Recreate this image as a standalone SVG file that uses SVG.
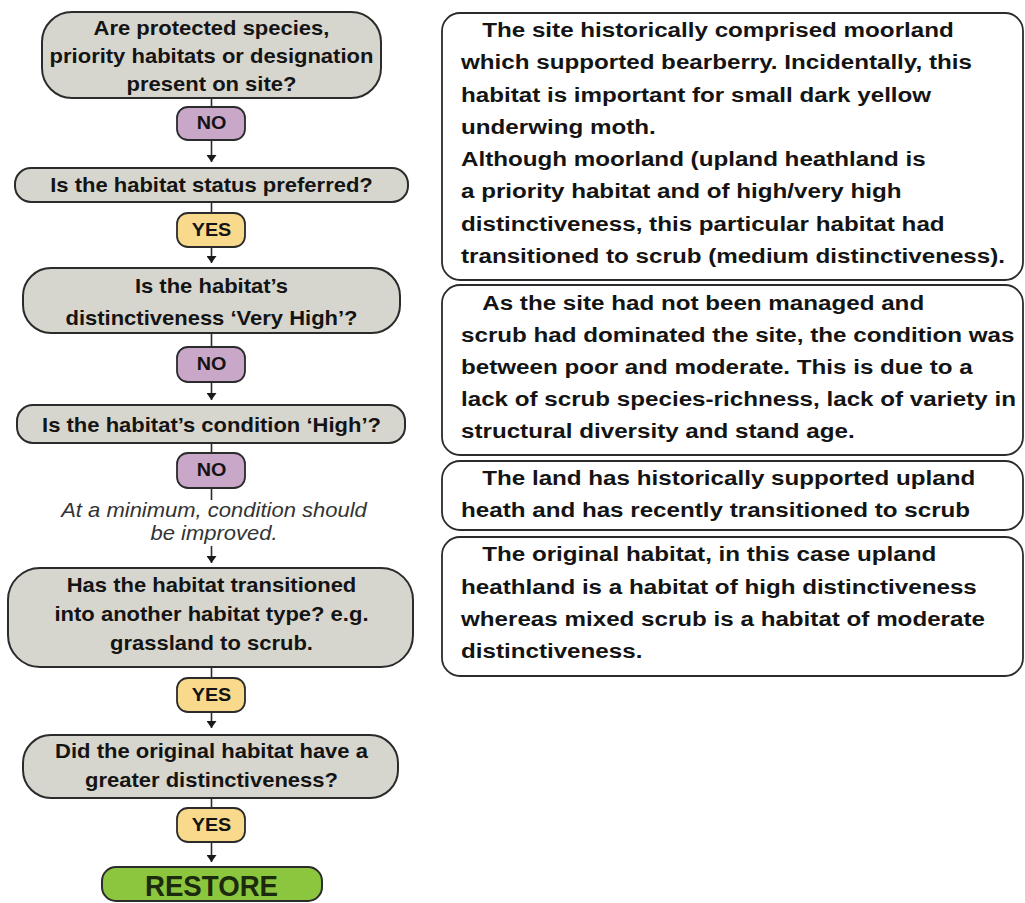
<svg xmlns="http://www.w3.org/2000/svg" width="1025" height="903" viewBox="0 0 1025 903">
  <defs>
    <marker id="arrow" viewBox="0 0 7 10" refX="7" refY="5" markerWidth="7" markerHeight="10" markerUnits="userSpaceOnUse" orient="auto">
      <path d="M0,0 L7,5 L0,10 Z" fill="#1a1a1a"/>
    </marker>
    <style>
      .q { fill: #d7d6ce; stroke: #2b2b2b; stroke-width: 2; }
      .no { fill: #c9a7c8; stroke: #2b2b2b; stroke-width: 1.8; }
      .yes { fill: #f9d98b; stroke: #2b2b2b; stroke-width: 1.8; }
      .go { fill: #8cc63e; stroke: #2b2b2b; stroke-width: 2; }
      .note { fill: #ffffff; stroke: #2b2b2b; stroke-width: 1.8; }
      .link { stroke: #2b2b2b; stroke-width: 1.6; fill: none; }
      text { font-family: "Liberation Sans", Arial, sans-serif; fill: #141414; }
      .b { font-weight: bold; font-size: 20px; text-anchor: middle; }
      .tag { font-weight: bold; font-size: 18px; text-anchor: middle; }
      .it { font-style: italic; font-size: 20px; text-anchor: middle; fill: #333333; }
      .r { font-weight: bold; font-size: 20.5px; }
      .big { font-weight: bold; font-size: 30px; text-anchor: middle; fill: #1c2a0e; }
    </style>
  </defs>

  <rect width="1025" height="903" fill="#ffffff"/>

  <!-- connectors on the centre line -->
  <g id="connectors">
    <line class="link" x1="211.5" y1="98" x2="211.5" y2="107"/>
    <line class="link" x1="211.5" y1="140" x2="211.5" y2="162" marker-end="url(#arrow)"/>
    <line class="link" x1="211.5" y1="202" x2="211.5" y2="213"/>
    <line class="link" x1="211.5" y1="247" x2="211.5" y2="263" marker-end="url(#arrow)"/>
    <line class="link" x1="211.5" y1="333" x2="211.5" y2="347"/>
    <line class="link" x1="211.5" y1="382" x2="211.5" y2="400" marker-end="url(#arrow)"/>
    <line class="link" x1="211.5" y1="443" x2="211.5" y2="453"/>
    <line class="link" x1="211.5" y1="488" x2="211.5" y2="500"/>
    <line class="link" x1="211.5" y1="546" x2="211.5" y2="563" marker-end="url(#arrow)"/>
    <line class="link" x1="211.5" y1="667" x2="211.5" y2="678"/>
    <line class="link" x1="211.5" y1="712" x2="211.5" y2="728" marker-end="url(#arrow)"/>
    <line class="link" x1="211.5" y1="798" x2="211.5" y2="808"/>
    <line class="link" x1="211.5" y1="842" x2="211.5" y2="862" marker-end="url(#arrow)"/>
  </g>

  <!-- decision column -->
  <g id="q-protected">
    <rect class="q" x="42" y="12" width="339" height="86" rx="30"/>
    <g transform="translate(211.5 0) scale(1.1 1)">
      <text class="b" x="0" y="35">Are protected species,</text>
      <text class="b" x="0" y="63">priority habitats or designation</text>
      <text class="b" x="0" y="91">present on site?</text>
    </g>
  </g>
  <g id="a-no-1">
    <rect class="no" x="177" y="107" width="68" height="33" rx="11"/>
    <text class="tag" transform="translate(211.5 0) scale(1.1 1)" x="0" y="129">NO</text>
  </g>

  <g id="q-status">
    <rect class="q" x="15" y="168" width="393" height="34" rx="16"/>
    <text class="b" transform="translate(211.5 0) scale(1.1 1)" x="0" y="192">Is the habitat status preferred?</text>
  </g>
  <g id="a-yes-1">
    <rect class="yes" x="177" y="213" width="68" height="34" rx="11"/>
    <text class="tag" transform="translate(211.5 0) scale(1.1 1)" x="0" y="236">YES</text>
  </g>

  <g id="q-distinct">
    <rect class="q" x="23" y="268" width="377" height="65" rx="28"/>
    <g transform="translate(211.5 0) scale(1.1 1)">
      <text class="b" x="0" y="293">Is the habitat’s</text>
      <text class="b" x="0" y="325">distinctiveness ‘Very High’?</text>
    </g>
  </g>
  <g id="a-no-2">
    <rect class="no" x="177" y="347" width="68" height="35" rx="11"/>
    <text class="tag" transform="translate(211.5 0) scale(1.1 1)" x="0" y="370">NO</text>
  </g>

  <g id="q-condition">
    <rect class="q" x="17" y="405" width="388" height="38" rx="16"/>
    <text class="b" transform="translate(211.5 0) scale(1.1 1)" x="0" y="432">Is the habitat’s condition ‘High’?</text>
  </g>
  <g id="a-no-3">
    <rect class="no" x="177" y="453" width="68" height="35" rx="11"/>
    <text class="tag" transform="translate(211.5 0) scale(1.1 1)" x="0" y="476">NO</text>
  </g>

  <g id="note-minimum" transform="translate(214 0) scale(1.1 1)">
    <text class="it" x="0" y="517">At a minimum, condition should</text>
    <text class="it" x="0" y="540">be improved.</text>
  </g>

  <g id="q-transition">
    <rect class="q" x="8" y="568" width="405" height="99" rx="32"/>
    <g transform="translate(211.5 0) scale(1.1 1)">
      <text class="b" x="0" y="592">Has the habitat transitioned</text>
      <text class="b" x="0" y="621">into another habitat type? e.g.</text>
      <text class="b" x="0" y="650">grassland to scrub.</text>
    </g>
  </g>
  <g id="a-yes-2">
    <rect class="yes" x="177" y="678" width="68" height="34" rx="11"/>
    <text class="tag" transform="translate(211.5 0) scale(1.1 1)" x="0" y="701">YES</text>
  </g>

  <g id="q-original">
    <rect class="q" x="23" y="735" width="375" height="63" rx="28"/>
    <g transform="translate(211.5 0) scale(1.1 1)">
      <text class="b" x="0" y="758">Did the original habitat have a</text>
      <text class="b" x="0" y="787">greater distinctiveness?</text>
    </g>
  </g>
  <g id="a-yes-3">
    <rect class="yes" x="177" y="808" width="68" height="34" rx="11"/>
    <text class="tag" transform="translate(211.5 0) scale(1.1 1)" x="0" y="831">YES</text>
  </g>

  <g id="restore">
    <rect class="go" x="102" y="867" width="220" height="34" rx="14"/>
    <text class="big" x="211.5" y="896" textLength="133" lengthAdjust="spacingAndGlyphs">RESTORE</text>
  </g>

  <!-- explanatory notes -->
  <g id="note-site">
    <rect class="note" x="442" y="13" width="581" height="267" rx="18"/>
    <g transform="translate(461 0) scale(1.18 1)">
      <text class="r" x="18" y="37">The site historically comprised moorland</text>
      <text class="r" x="0" y="69">which supported bearberry. Incidentally, this</text>
      <text class="r" x="0" y="102">habitat is important for small dark yellow</text>
      <text class="r" x="0" y="134">underwing moth.</text>
      <text class="r" x="0" y="166">Although moorland (upland heathland is</text>
      <text class="r" x="0" y="198">a priority habitat and of high/very high</text>
      <text class="r" x="0" y="231">distinctiveness, this particular habitat had</text>
      <text class="r" x="0" y="263">transitioned to scrub (medium distinctiveness).</text>
    </g>
  </g>

  <g id="note-condition">
    <rect class="note" x="442" y="285" width="581" height="170" rx="18"/>
    <g transform="translate(461 0) scale(1.18 1)">
      <text class="r" x="18" y="310">As the site had not been managed and</text>
      <text class="r" x="0" y="342">scrub had dominated the site, the condition was</text>
      <text class="r" x="0" y="374">between poor and moderate. This is due to a</text>
      <text class="r" x="0" y="406">lack of scrub species-richness, lack of variety in</text>
      <text class="r" x="0" y="438">structural diversity and stand age.</text>
    </g>
  </g>

  <g id="note-history">
    <rect class="note" x="442" y="461" width="581" height="69" rx="18"/>
    <g transform="translate(461 0) scale(1.18 1)">
      <text class="r" x="18" y="485">The land has historically supported upland</text>
      <text class="r" x="0" y="517">heath and has recently transitioned to scrub</text>
    </g>
  </g>

  <g id="note-original">
    <rect class="note" x="442" y="537" width="581" height="139" rx="18"/>
    <g transform="translate(461 0) scale(1.18 1)">
      <text class="r" x="18" y="561">The original habitat, in this case upland</text>
      <text class="r" x="0" y="594">heathland is a habitat of high distinctiveness</text>
      <text class="r" x="0" y="626">whereas mixed scrub is a habitat of moderate</text>
      <text class="r" x="0" y="658">distinctiveness.</text>
    </g>
  </g>
</svg>
